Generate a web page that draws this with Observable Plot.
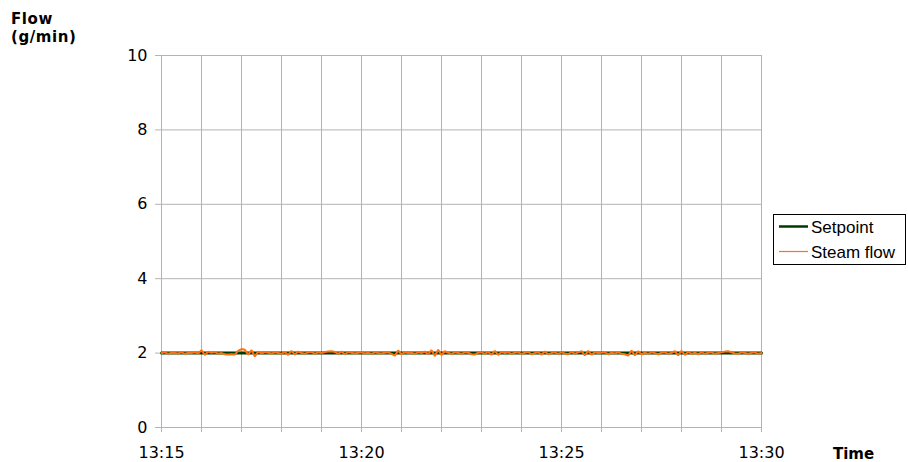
<!DOCTYPE html>
<html>
<head>
<meta charset="utf-8">
<script src="https://cdn.jsdelivr.net/npm/d3@7"></script>
<script src="https://cdn.jsdelivr.net/npm/@observablehq/plot@0.6"></script>
<style>
  html, body { margin: 0; padding: 0; background: #fff; }
  #chart { width: 908px; height: 462px; }
</style>
</head>
<body>
<div id="chart"></div>
<script>
// ---- data ----
const startTime = "13:15";
const endTime = "13:30";
const sampleSeconds = 5;
const setpointValues = [2, 2];           // at start and end
const steamFlow = [
  2.00,2.02,1.98,2.01,2.00,1.99,2.02,1.98,2.01,2.00,2.02,1.99,   // 13:15
  2.08,1.95,2.04,2.01,2.03,1.98,2.00,1.97,1.96,1.97,1.96,2.06,   // 13:16
  2.11,2.09,1.96,2.08,1.91,2.04,1.99,2.03,2.01,1.99,2.02,2.00,   // 13:17
  1.98,2.03,1.95,2.06,1.96,2.04,2.00,1.98,2.02,2.03,1.98,2.02,   // 13:18
  2.00,2.03,2.04,2.05,2.03,1.98,2.04,1.97,2.03,2.01,1.99,2.01,   // 13:19
  2.02,1.99,2.01,1.98,2.02,2.00,1.99,2.01,2.02,1.98,1.93,2.07,   // 13:20
  1.97,2.02,2.00,2.01,1.98,2.02,2.00,2.04,1.97,2.08,1.92,2.09,   // 13:21
  1.95,2.05,2.01,1.98,2.02,2.00,1.98,2.02,2.01,1.97,1.96,2.01,   // 13:22
  2.02,1.98,2.03,1.96,2.06,1.95,2.03,2.00,2.02,1.98,2.01,2.02,   // 13:23
  1.98,2.01,2.03,1.97,2.00,2.02,1.96,2.04,1.97,2.00,2.02,1.98,   // 13:24
  2.02,1.99,1.97,2.03,1.98,2.02,2.05,1.94,2.06,1.96,2.02,2.00,   // 13:25
  2.01,2.02,1.97,2.01,1.99,2.02,1.98,1.97,1.93,2.07,1.94,2.05,   // 13:26
  1.97,2.01,1.98,2.02,2.00,1.97,2.01,2.02,1.98,2.01,2.05,1.94,   // 13:27
  2.06,1.95,2.03,1.98,2.01,1.97,2.02,1.98,2.01,2.02,1.98,2.00,   // 13:28
  2.02,2.04,2.05,2.02,1.99,1.98,2.02,2.00,1.98,2.01,2.02,1.98,   // 13:29
  2.00                                                            // 13:30
];
const yTicks = [0, 2, 4, 6, 8, 10];
const seriesNames = ["Setpoint", "Steam flow"];
const seriesColors = ["#003a00", "#ff7010"];
const yLabel = ["Flow", "(g/min)"];
const xLabel = "Time";

// ---- build ----
const toDate = (hm, s = 0) => {
  const [h, m] = hm.split(":").map(Number);
  return new Date(Date.UTC(2000, 0, 1, h, m, s));
};
const t0 = toDate(startTime), t1 = toDate(endTime);
const flowData = steamFlow.map((v, i) => ({t: new Date(t0.getTime() + i * sampleSeconds * 1000), v}));
const setData = [{t: t0, v: setpointValues[0]}, {t: t1, v: setpointValues[1]}];
const minuteTicks = d3.utcMinute.range(t0, new Date(t1.getTime() + 1));
const fmt = d3.utcFormat("%H:%M");
const grid = "#b3b3b3";

const svg = Plot.plot({
  width: 908,
  height: 462,
  marginLeft: 161,
  marginRight: 147,
  marginTop: 55,
  marginBottom: 35,
  style: {fontFamily: "DejaVu Sans", fontSize: "16px", color: "black", background: "white", overflow: "visible"},
  x: {type: "utc", domain: [t0, t1]},
  y: {domain: [0, 10]},
  marks: [
    Plot.gridX(minuteTicks, {stroke: grid, strokeOpacity: 1, strokeWidth: 1}),
    Plot.gridY(yTicks, {stroke: grid, strokeOpacity: 1, strokeWidth: 1}),
    Plot.axisY(yTicks, {tickSize: 6, tickPadding: 8, stroke: grid, strokeOpacity: 1, fill: "black", label: null}),
    Plot.axisX(minuteTicks, {tickSize: 5, tickPadding: 14, stroke: grid, strokeOpacity: 1, fill: "black", label: null,
      tickFormat: d => d.getUTCMinutes() % 5 === 0 ? fmt(d) : ""}),
    Plot.line(setData, {x: "t", y: "v", stroke: seriesColors[0], strokeWidth: 3}),
    Plot.line(flowData, {x: "t", y: "v", stroke: seriesColors[1], strokeWidth: 2, strokeLinejoin: "miter", curve: "linear"})
  ]
});
document.getElementById("chart").appendChild(svg);

const s = d3.select(svg);
// axis titles
const yl = s.append("text").attr("text-anchor", "start").attr("font-family", "DejaVu Sans").attr("font-weight", "bold")
  .attr("font-size", 15).attr("letter-spacing", "0.6px").attr("fill", "black");
yl.append("tspan").attr("x", 11).attr("y", 24).text(yLabel[0]);
yl.append("tspan").attr("x", 11).attr("y", 42).text(yLabel[1]);
s.append("text").attr("text-anchor", "start").attr("x", 833).attr("y", 459).attr("font-family", "DejaVu Sans")
  .attr("font-weight", "bold").attr("font-size", 15).attr("fill", "black").text(xLabel);

// legend
const lg = s.append("g");
lg.append("rect").attr("x", 773.5).attr("y", 214.5).attr("width", 132).attr("height", 50)
  .attr("fill", "white").attr("stroke", "black").attr("stroke-width", 1);
const rowsY = [226.5, 251.5];
seriesNames.forEach((name, i) => {
  lg.append("line").attr("x1", 779).attr("x2", 808).attr("y1", rowsY[i]).attr("y2", rowsY[i])
    .attr("stroke", seriesColors[i]).attr("stroke-width", i === 0 ? 2.5 : 1.2);
  lg.append("text").attr("text-anchor", "start").attr("x", 811).attr("y", rowsY[i] + 6.5)
    .attr("font-family", "Liberation Sans").attr("font-size", 17).attr("fill", "black").text(name);
});
</script>
</body>
</html>
